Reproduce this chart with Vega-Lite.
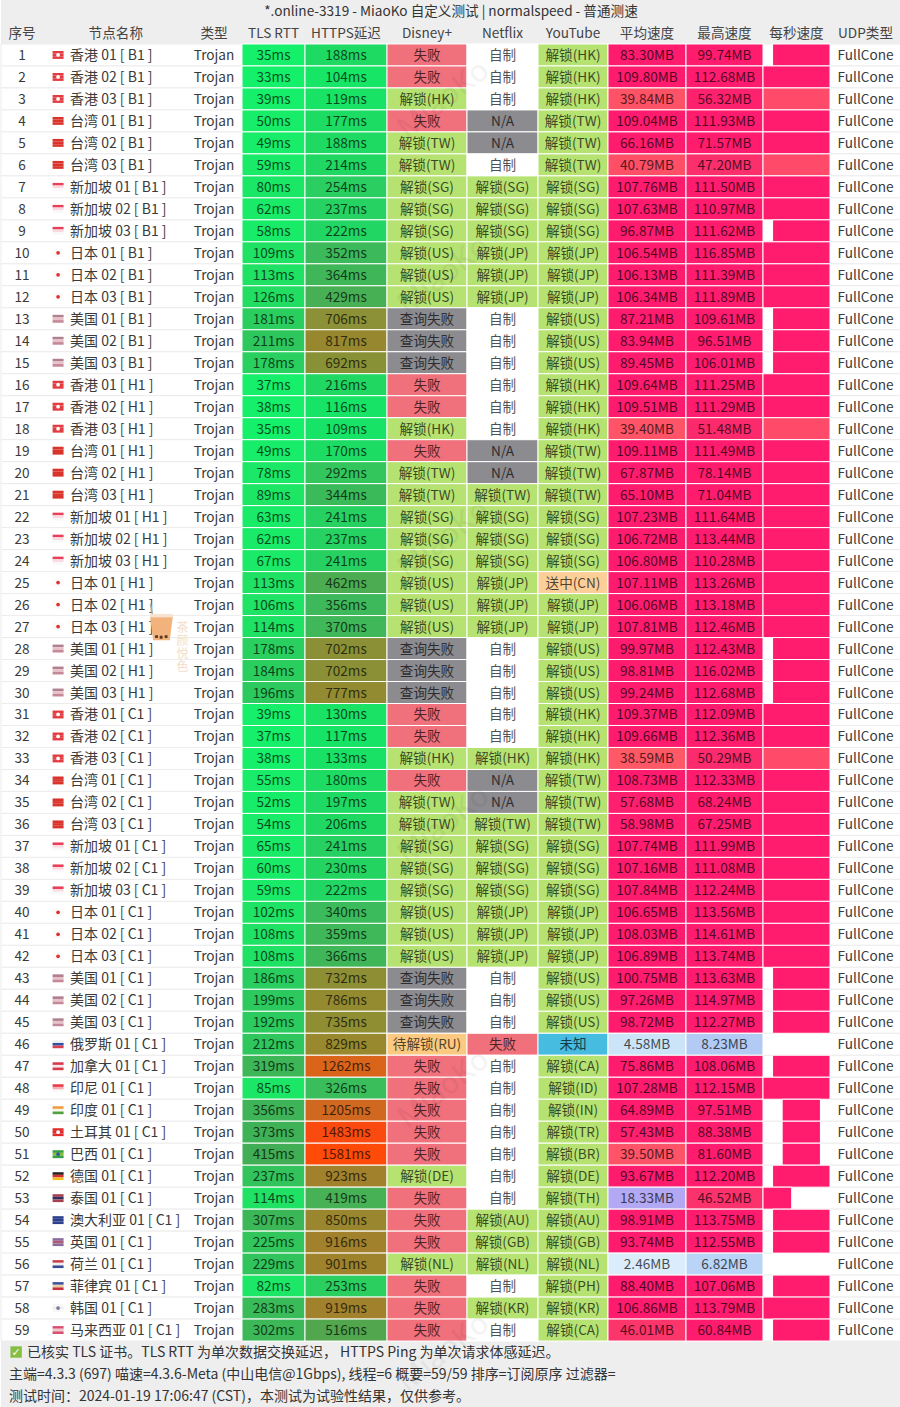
{
"$schema":"https://vega.github.io/schema/vega-lite/v6.json",
"width":900,"height":1407,"padding":0,
"autosize":{"type":"fit","contains":"padding"},
"background":"#ffffff",
"config":{"view":{"stroke":null},"text":{"font":"Noto Sans CJK SC","fontSize":13.6,"baseline":"middle","dy":1}},
"datasets":{"rows":[
{"n":1,"f":"HK","node":"香港 01 [ B1 ]","type":"Trojan","tls":35,"https":188,"disney":"失败","netflix":"自制","yt":"解锁(HK)","avg":83.30,"max":99.74,"s0":1,"s1":7,"tone":"solid","udp":"FullCone"},
{"n":2,"f":"HK","node":"香港 02 [ B1 ]","type":"Trojan","tls":33,"https":104,"disney":"失败","netflix":"自制","yt":"解锁(HK)","avg":109.80,"max":112.68,"s0":0,"s1":7,"tone":"solid","udp":"FullCone"},
{"n":3,"f":"HK","node":"香港 03 [ B1 ]","type":"Trojan","tls":39,"https":119,"disney":"解锁(HK)","netflix":"自制","yt":"解锁(HK)","avg":39.84,"max":56.32,"s0":0,"s1":7,"tone":"faded","udp":"FullCone"},
{"n":4,"f":"TW","node":"台湾 01 [ B1 ]","type":"Trojan","tls":50,"https":177,"disney":"失败","netflix":"N/A","yt":"解锁(TW)","avg":109.04,"max":111.93,"s0":0,"s1":7,"tone":"solid","udp":"FullCone"},
{"n":5,"f":"TW","node":"台湾 02 [ B1 ]","type":"Trojan","tls":49,"https":188,"disney":"解锁(TW)","netflix":"N/A","yt":"解锁(TW)","avg":66.16,"max":71.57,"s0":0,"s1":7,"tone":"solid","udp":"FullCone"},
{"n":6,"f":"TW","node":"台湾 03 [ B1 ]","type":"Trojan","tls":59,"https":214,"disney":"解锁(TW)","netflix":"自制","yt":"解锁(TW)","avg":40.79,"max":47.20,"s0":0,"s1":7,"tone":"faded","udp":"FullCone"},
{"n":7,"f":"SG","node":"新加坡 01 [ B1 ]","type":"Trojan","tls":80,"https":254,"disney":"解锁(SG)","netflix":"解锁(SG)","yt":"解锁(SG)","avg":107.76,"max":111.50,"s0":0,"s1":7,"tone":"solid","udp":"FullCone"},
{"n":8,"f":"SG","node":"新加坡 02 [ B1 ]","type":"Trojan","tls":62,"https":237,"disney":"解锁(SG)","netflix":"解锁(SG)","yt":"解锁(SG)","avg":107.63,"max":110.97,"s0":0,"s1":7,"tone":"solid","udp":"FullCone"},
{"n":9,"f":"SG","node":"新加坡 03 [ B1 ]","type":"Trojan","tls":58,"https":222,"disney":"解锁(SG)","netflix":"解锁(SG)","yt":"解锁(SG)","avg":96.87,"max":111.62,"s0":1,"s1":7,"tone":"solid","udp":"FullCone"},
{"n":10,"f":"JP","node":"日本 01 [ B1 ]","type":"Trojan","tls":109,"https":352,"disney":"解锁(US)","netflix":"解锁(JP)","yt":"解锁(JP)","avg":106.54,"max":116.85,"s0":0,"s1":7,"tone":"solid","udp":"FullCone"},
{"n":11,"f":"JP","node":"日本 02 [ B1 ]","type":"Trojan","tls":113,"https":364,"disney":"解锁(US)","netflix":"解锁(JP)","yt":"解锁(JP)","avg":106.13,"max":111.39,"s0":0,"s1":7,"tone":"solid","udp":"FullCone"},
{"n":12,"f":"JP","node":"日本 03 [ B1 ]","type":"Trojan","tls":126,"https":429,"disney":"解锁(US)","netflix":"解锁(JP)","yt":"解锁(JP)","avg":106.34,"max":111.89,"s0":0,"s1":7,"tone":"solid","udp":"FullCone"},
{"n":13,"f":"US","node":"美国 01 [ B1 ]","type":"Trojan","tls":181,"https":706,"disney":"查询失败","netflix":"自制","yt":"解锁(US)","avg":87.21,"max":109.61,"s0":1,"s1":7,"tone":"solid","udp":"FullCone"},
{"n":14,"f":"US","node":"美国 02 [ B1 ]","type":"Trojan","tls":211,"https":817,"disney":"查询失败","netflix":"自制","yt":"解锁(US)","avg":83.94,"max":96.51,"s0":1,"s1":7,"tone":"solid","udp":"FullCone"},
{"n":15,"f":"US","node":"美国 03 [ B1 ]","type":"Trojan","tls":178,"https":692,"disney":"查询失败","netflix":"自制","yt":"解锁(US)","avg":89.45,"max":106.01,"s0":1,"s1":7,"tone":"solid","udp":"FullCone"},
{"n":16,"f":"HK","node":"香港 01 [ H1 ]","type":"Trojan","tls":37,"https":216,"disney":"失败","netflix":"自制","yt":"解锁(HK)","avg":109.64,"max":111.25,"s0":0,"s1":7,"tone":"solid","udp":"FullCone"},
{"n":17,"f":"HK","node":"香港 02 [ H1 ]","type":"Trojan","tls":38,"https":116,"disney":"失败","netflix":"自制","yt":"解锁(HK)","avg":109.51,"max":111.29,"s0":0,"s1":7,"tone":"solid","udp":"FullCone"},
{"n":18,"f":"HK","node":"香港 03 [ H1 ]","type":"Trojan","tls":35,"https":109,"disney":"解锁(HK)","netflix":"自制","yt":"解锁(HK)","avg":39.40,"max":51.48,"s0":0,"s1":7,"tone":"faded","udp":"FullCone"},
{"n":19,"f":"TW","node":"台湾 01 [ H1 ]","type":"Trojan","tls":49,"https":170,"disney":"失败","netflix":"N/A","yt":"解锁(TW)","avg":109.11,"max":111.49,"s0":0,"s1":7,"tone":"solid","udp":"FullCone"},
{"n":20,"f":"TW","node":"台湾 02 [ H1 ]","type":"Trojan","tls":78,"https":292,"disney":"解锁(TW)","netflix":"N/A","yt":"解锁(TW)","avg":67.87,"max":78.14,"s0":0,"s1":7,"tone":"solid","udp":"FullCone"},
{"n":21,"f":"TW","node":"台湾 03 [ H1 ]","type":"Trojan","tls":89,"https":344,"disney":"解锁(TW)","netflix":"解锁(TW)","yt":"解锁(TW)","avg":65.10,"max":71.04,"s0":0,"s1":7,"tone":"solid","udp":"FullCone"},
{"n":22,"f":"SG","node":"新加坡 01 [ H1 ]","type":"Trojan","tls":63,"https":241,"disney":"解锁(SG)","netflix":"解锁(SG)","yt":"解锁(SG)","avg":107.23,"max":111.64,"s0":0,"s1":7,"tone":"solid","udp":"FullCone"},
{"n":23,"f":"SG","node":"新加坡 02 [ H1 ]","type":"Trojan","tls":62,"https":237,"disney":"解锁(SG)","netflix":"解锁(SG)","yt":"解锁(SG)","avg":106.72,"max":113.44,"s0":0,"s1":7,"tone":"solid","udp":"FullCone"},
{"n":24,"f":"SG","node":"新加坡 03 [ H1 ]","type":"Trojan","tls":67,"https":241,"disney":"解锁(SG)","netflix":"解锁(SG)","yt":"解锁(SG)","avg":106.80,"max":110.28,"s0":0,"s1":7,"tone":"solid","udp":"FullCone"},
{"n":25,"f":"JP","node":"日本 01 [ H1 ]","type":"Trojan","tls":113,"https":462,"disney":"解锁(US)","netflix":"解锁(JP)","yt":"送中(CN)","avg":107.11,"max":113.26,"s0":0,"s1":7,"tone":"solid","udp":"FullCone"},
{"n":26,"f":"JP","node":"日本 02 [ H1 ]","type":"Trojan","tls":106,"https":356,"disney":"解锁(US)","netflix":"解锁(JP)","yt":"解锁(JP)","avg":106.06,"max":113.18,"s0":0,"s1":7,"tone":"solid","udp":"FullCone"},
{"n":27,"f":"JP","node":"日本 03 [ H1 ]","type":"Trojan","tls":114,"https":370,"disney":"解锁(US)","netflix":"解锁(JP)","yt":"解锁(JP)","avg":107.81,"max":112.46,"s0":0,"s1":7,"tone":"solid","udp":"FullCone"},
{"n":28,"f":"US","node":"美国 01 [ H1 ]","type":"Trojan","tls":178,"https":702,"disney":"查询失败","netflix":"自制","yt":"解锁(US)","avg":99.97,"max":112.43,"s0":1,"s1":7,"tone":"solid","udp":"FullCone"},
{"n":29,"f":"US","node":"美国 02 [ H1 ]","type":"Trojan","tls":184,"https":702,"disney":"查询失败","netflix":"自制","yt":"解锁(US)","avg":98.81,"max":116.02,"s0":1,"s1":7,"tone":"solid","udp":"FullCone"},
{"n":30,"f":"US","node":"美国 03 [ H1 ]","type":"Trojan","tls":196,"https":777,"disney":"查询失败","netflix":"自制","yt":"解锁(US)","avg":99.24,"max":112.68,"s0":1,"s1":7,"tone":"solid","udp":"FullCone"},
{"n":31,"f":"HK","node":"香港 01 [ C1 ]","type":"Trojan","tls":39,"https":130,"disney":"失败","netflix":"自制","yt":"解锁(HK)","avg":109.37,"max":112.09,"s0":0,"s1":7,"tone":"solid","udp":"FullCone"},
{"n":32,"f":"HK","node":"香港 02 [ C1 ]","type":"Trojan","tls":37,"https":117,"disney":"失败","netflix":"自制","yt":"解锁(HK)","avg":109.66,"max":112.36,"s0":0,"s1":7,"tone":"solid","udp":"FullCone"},
{"n":33,"f":"HK","node":"香港 03 [ C1 ]","type":"Trojan","tls":38,"https":133,"disney":"解锁(HK)","netflix":"解锁(HK)","yt":"解锁(HK)","avg":38.59,"max":50.29,"s0":0,"s1":7,"tone":"faded","udp":"FullCone"},
{"n":34,"f":"TW","node":"台湾 01 [ C1 ]","type":"Trojan","tls":55,"https":180,"disney":"失败","netflix":"N/A","yt":"解锁(TW)","avg":108.73,"max":112.33,"s0":0,"s1":7,"tone":"solid","udp":"FullCone"},
{"n":35,"f":"TW","node":"台湾 02 [ C1 ]","type":"Trojan","tls":52,"https":197,"disney":"解锁(TW)","netflix":"N/A","yt":"解锁(TW)","avg":57.68,"max":68.24,"s0":0,"s1":7,"tone":"solid","udp":"FullCone"},
{"n":36,"f":"TW","node":"台湾 03 [ C1 ]","type":"Trojan","tls":54,"https":206,"disney":"解锁(TW)","netflix":"解锁(TW)","yt":"解锁(TW)","avg":58.98,"max":67.25,"s0":0,"s1":7,"tone":"solid","udp":"FullCone"},
{"n":37,"f":"SG","node":"新加坡 01 [ C1 ]","type":"Trojan","tls":65,"https":241,"disney":"解锁(SG)","netflix":"解锁(SG)","yt":"解锁(SG)","avg":107.74,"max":111.99,"s0":0,"s1":7,"tone":"solid","udp":"FullCone"},
{"n":38,"f":"SG","node":"新加坡 02 [ C1 ]","type":"Trojan","tls":60,"https":230,"disney":"解锁(SG)","netflix":"解锁(SG)","yt":"解锁(SG)","avg":107.16,"max":111.08,"s0":0,"s1":7,"tone":"solid","udp":"FullCone"},
{"n":39,"f":"SG","node":"新加坡 03 [ C1 ]","type":"Trojan","tls":59,"https":222,"disney":"解锁(SG)","netflix":"解锁(SG)","yt":"解锁(SG)","avg":107.84,"max":112.24,"s0":0,"s1":7,"tone":"solid","udp":"FullCone"},
{"n":40,"f":"JP","node":"日本 01 [ C1 ]","type":"Trojan","tls":102,"https":340,"disney":"解锁(US)","netflix":"解锁(JP)","yt":"解锁(JP)","avg":106.65,"max":113.56,"s0":0,"s1":7,"tone":"solid","udp":"FullCone"},
{"n":41,"f":"JP","node":"日本 02 [ C1 ]","type":"Trojan","tls":108,"https":359,"disney":"解锁(US)","netflix":"解锁(JP)","yt":"解锁(JP)","avg":108.03,"max":114.61,"s0":0,"s1":7,"tone":"solid","udp":"FullCone"},
{"n":42,"f":"JP","node":"日本 03 [ C1 ]","type":"Trojan","tls":108,"https":366,"disney":"解锁(US)","netflix":"解锁(JP)","yt":"解锁(JP)","avg":106.89,"max":113.74,"s0":0,"s1":7,"tone":"solid","udp":"FullCone"},
{"n":43,"f":"US","node":"美国 01 [ C1 ]","type":"Trojan","tls":186,"https":732,"disney":"查询失败","netflix":"自制","yt":"解锁(US)","avg":100.75,"max":113.63,"s0":1,"s1":7,"tone":"solid","udp":"FullCone"},
{"n":44,"f":"US","node":"美国 02 [ C1 ]","type":"Trojan","tls":199,"https":786,"disney":"查询失败","netflix":"自制","yt":"解锁(US)","avg":97.26,"max":114.97,"s0":1,"s1":7,"tone":"solid","udp":"FullCone"},
{"n":45,"f":"US","node":"美国 03 [ C1 ]","type":"Trojan","tls":192,"https":735,"disney":"查询失败","netflix":"自制","yt":"解锁(US)","avg":98.72,"max":112.27,"s0":1,"s1":7,"tone":"solid","udp":"FullCone"},
{"n":46,"f":"RU","node":"俄罗斯 01 [ C1 ]","type":"Trojan","tls":212,"https":829,"disney":"待解锁(RU)","netflix":"失败","yt":"未知","avg":4.58,"max":8.23,"s0":0,"s1":0,"tone":"solid","udp":"FullCone"},
{"n":47,"f":"CA","node":"加拿大 01 [ C1 ]","type":"Trojan","tls":319,"https":1262,"disney":"失败","netflix":"自制","yt":"解锁(CA)","avg":75.86,"max":108.06,"s0":1,"s1":7,"tone":"solid","udp":"FullCone"},
{"n":48,"f":"ID","node":"印尼 01 [ C1 ]","type":"Trojan","tls":85,"https":326,"disney":"失败","netflix":"自制","yt":"解锁(ID)","avg":107.28,"max":112.15,"s0":0,"s1":7,"tone":"solid","udp":"FullCone"},
{"n":49,"f":"IN","node":"印度 01 [ C1 ]","type":"Trojan","tls":356,"https":1205,"disney":"失败","netflix":"自制","yt":"解锁(IN)","avg":64.89,"max":97.51,"s0":2,"s1":6,"tone":"solid","udp":"FullCone"},
{"n":50,"f":"TR","node":"土耳其 01 [ C1 ]","type":"Trojan","tls":373,"https":1483,"disney":"失败","netflix":"自制","yt":"解锁(TR)","avg":57.43,"max":88.38,"s0":2,"s1":6,"tone":"solid","udp":"FullCone"},
{"n":51,"f":"BR","node":"巴西 01 [ C1 ]","type":"Trojan","tls":415,"https":1581,"disney":"失败","netflix":"自制","yt":"解锁(BR)","avg":39.50,"max":81.60,"s0":2,"s1":6,"tone":"solid","udp":"FullCone"},
{"n":52,"f":"DE","node":"德国 01 [ C1 ]","type":"Trojan","tls":237,"https":923,"disney":"解锁(DE)","netflix":"自制","yt":"解锁(DE)","avg":93.67,"max":112.20,"s0":1,"s1":7,"tone":"solid","udp":"FullCone"},
{"n":53,"f":"TH","node":"泰国 01 [ C1 ]","type":"Trojan","tls":114,"https":419,"disney":"失败","netflix":"自制","yt":"解锁(TH)","avg":18.33,"max":46.52,"s0":0,"s1":3,"tone":"solid","udp":"FullCone"},
{"n":54,"f":"AU","node":"澳大利亚 01 [ C1 ]","type":"Trojan","tls":307,"https":850,"disney":"失败","netflix":"解锁(AU)","yt":"解锁(AU)","avg":98.91,"max":113.75,"s0":1,"s1":7,"tone":"solid","udp":"FullCone"},
{"n":55,"f":"GB","node":"英国 01 [ C1 ]","type":"Trojan","tls":225,"https":916,"disney":"失败","netflix":"解锁(GB)","yt":"解锁(GB)","avg":93.74,"max":112.55,"s0":1,"s1":7,"tone":"solid","udp":"FullCone"},
{"n":56,"f":"NL","node":"荷兰 01 [ C1 ]","type":"Trojan","tls":229,"https":901,"disney":"解锁(NL)","netflix":"解锁(NL)","yt":"解锁(NL)","avg":2.46,"max":6.82,"s0":0,"s1":0,"tone":"solid","udp":"FullCone"},
{"n":57,"f":"PH","node":"菲律宾 01 [ C1 ]","type":"Trojan","tls":82,"https":253,"disney":"失败","netflix":"自制","yt":"解锁(PH)","avg":88.40,"max":107.06,"s0":1,"s1":7,"tone":"solid","udp":"FullCone"},
{"n":58,"f":"KR","node":"韩国 01 [ C1 ]","type":"Trojan","tls":283,"https":919,"disney":"失败","netflix":"解锁(KR)","yt":"解锁(KR)","avg":106.86,"max":113.79,"s0":0,"s1":7,"tone":"solid","udp":"FullCone"},
{"n":59,"f":"MY","node":"马来西亚 01 [ C1 ]","type":"Trojan","tls":302,"https":516,"disney":"失败","netflix":"自制","yt":"解锁(CA)","avg":46.01,"max":60.84,"s0":1,"s1":7,"tone":"solid","udp":"FullCone"}
]},
"data":{"name":"rows"},
"encoding":{"y":{"field":"n","type":"ordinal","axis":null,"scale":{"paddingInner":0,"paddingOuter":0,"domain":[-1,0,1,2,3,4,5,6,7,8,9,10,11,12,13,14,15,16,17,18,19,20,21,22,23,24,25,26,27,28,29,30,31,32,33,34,35,36,37,38,39,40,41,42,43,44,45,46,47,48,49,50,51,52,53,54,55,56,57,58,59,60,61,62]}}},
"resolve":{"scale":{"color":"independent"}},
"layer":[
{"mark":{"type":"rect","fill":"#ffffff","stroke":"#ececec","strokeWidth":1},"encoding":{"x":{"datum":-11,"type":"quantitative","axis":null,"scale":{"zero":false,"nice":false,"clamp":false,"domain":[-11,-10,-9,-8,-7,-6,-5,-4,-3,-2,-1,0,7,8],"range":[0,42,68,185,241,304,386,466,537,607,685,762,829,900]}},"x2":{"datum":8}}},
{"data":{"values":[{"n":-1},{"n":0},{"n":60},{"n":61},{"n":62}]},"mark":{"type":"rect","fill":"#eeeeef"},"encoding":{"x":{"datum":-11},"x2":{"datum":8}}},

{"mark":{"type":"rect","stroke":"#ffffff","strokeWidth":1},"encoding":{"x":{"datum":-7},"x2":{"datum":-6},"color":{"field":"tls","type":"quantitative","legend":null,"scale":{"domain":[33,120,200,300,415],"range":["#14f06a","#20e063","#2cc95e","#3cb858","#41ad55"]}}}},
{"mark":{"type":"rect","stroke":"#ffffff","strokeWidth":1},"encoding":{"x":{"datum":-6},"x2":{"datum":-5},"color":{"field":"https","type":"quantitative","legend":null,"scale":{"domain":[104,220,350,520,700,920,1205,1480,1581],"range":["#16e566","#20d662","#3cb95a","#52a64e","#8b9036","#a1812c","#d0681f","#fb4a10","#ff4a08"]}}}},
{"mark":{"type":"rect","stroke":"#ffffff","strokeWidth":1},"encoding":{"x":{"datum":-5},"x2":{"datum":-4},"color":{"condition":[{"test":"test(/^失败/,datum.disney)","value":"#f0707c"},{"test":"test(/^查询/,datum.disney)","value":"#8b8b90"},{"test":"test(/^待/,datum.disney)","value":"#fbc97f"}],"value":"#b6e272"}}},
{"mark":{"type":"rect","stroke":"#ffffff","strokeWidth":1},"encoding":{"x":{"datum":-4},"x2":{"datum":-3},"color":{"condition":[{"test":"test(/^失败/,datum.netflix)","value":"#f0707c"},{"test":"datum.netflix=='N/A'","value":"#8b8b90"},{"test":"datum.netflix=='自制'","value":"#ffffff"}],"value":"#b6e272"}}},
{"mark":{"type":"rect","stroke":"#ffffff","strokeWidth":1},"encoding":{"x":{"datum":-3},"x2":{"datum":-2},"color":{"condition":[{"test":"test(/^送中/,datum.yt)","value":"#fdcf98"},{"test":"datum.yt=='未知'","value":"#45bce0"}],"value":"#b6e272"}}},
{"mark":{"type":"rect","stroke":"#ffffff","strokeWidth":1},"encoding":{"x":{"datum":-2},"x2":{"datum":-1},"color":{"field":"avg","type":"quantitative","legend":null,"scale":{"domain":[2,5,8,18.3,38,47,60,120],"range":["#deeefb","#c8e2f8","#b2cbf4","#b3a8f3","#ff5a66","#fb2f6c","#ff1c6f","#ff1c6f"]}}}},
{"mark":{"type":"rect","stroke":"#ffffff","strokeWidth":1},"encoding":{"x":{"datum":-1},"x2":{"datum":0},"color":{"field":"max","type":"quantitative","legend":null,"scale":{"domain":[2,5,8,18.3,38,47,60,120],"range":["#deeefb","#c8e2f8","#b2cbf4","#b3a8f3","#ff5a66","#fb2f6c","#ff1c6f","#ff1c6f"]}}}},
{"transform":[{"filter":"datum.s1>0"}],"mark":{"type":"rect","stroke":"#ffffff","strokeWidth":1},"encoding":{"x":{"field":"s0","type":"quantitative"},"x2":{"field":"s1"},"color":{"field":"tone","type":"nominal","legend":null,"scale":{"domain":["solid","faded"],"range":["#ff1c6f","#ff4a6a"]}}}},

{"data":{"values":[{"n":3},{"n":11},{"n":23},{"n":36},{"n":48},{"n":60}]},"mark":{"type":"text","text":"MiaoKo","color":"#000000","opacity":0.045,"fontSize":30,"angle":-38,"font":"Noto Sans"},"encoding":{"x":{"datum":-4.3}}},

{"mark":{"type":"point","filled":true,"opacity":1,"size":121,"shape":"M-1,-0.72H1V-0.24H-1Z"},"encoding":{"x":{"datum":-9.42},"color":{"field":"f","type":"nominal","legend":null,"scale":{"domain":["HK","TW","SG","JP","US","RU","CA","ID","IN","TR","BR","DE","TH","AU","GB","NL","PH","KR","MY"],"range":["#e23c40","#d8342c","#e6405a","#fafafa","#b08090","#f0f0f0","#d8384a","#e63a46","#f09a40","#dd2c2c","#35a040","#222222","#a54050","#2c3f8c","#8a6a9a","#c83a48","#3a4ea0","#f7f7f7","#d85070"]}}}},
{"mark":{"type":"point","filled":true,"opacity":1,"size":121,"shape":"M-1,-0.24H1V0.24H-1Z"},"encoding":{"x":{"datum":-9.42},"color":{"field":"f","type":"nominal","legend":null,"scale":{"domain":["HK","TW","SG","JP","US","RU","CA","ID","IN","TR","BR","DE","TH","AU","GB","NL","PH","KR","MY"],"range":["#e23c40","#d8342c","#f9d9e0","#fafafa","#e8c0c8","#3050a8","#f0e8ea","#f5b0b5","#f5f5e8","#dd2c2c","#8cbf30","#d83030","#303060","#2c3f8c","#b05a78","#eeeeee","#e8d0a0","#eeeeee","#f0c8d0"]}}}},
{"mark":{"type":"point","filled":true,"opacity":1,"size":121,"shape":"M-1,0.24H1V0.72H-1Z"},"encoding":{"x":{"datum":-9.42},"color":{"field":"f","type":"nominal","legend":null,"scale":{"domain":["HK","TW","SG","JP","US","RU","CA","ID","IN","TR","BR","DE","TH","AU","GB","NL","PH","KR","MY"],"range":["#e23c40","#d8342c","#f8f8f8","#fafafa","#c48898","#d84050","#d8384a","#f8f8f8","#50a040","#dd2c2c","#35a040","#f0c020","#a54050","#2c3f8c","#8a6a9a","#3a4a9a","#c83040","#f7f7f7","#d85070"]}}}},
{"transform":[{"filter":{"field":"f","oneOf":["HK","JP","TR","BR","KR"]}}],"mark":{"type":"point","filled":true,"opacity":1,"size":14,"shape":"circle"},"encoding":{"x":{"datum":-9.42},"color":{"field":"f","type":"nominal","legend":null,"scale":{"domain":["HK","JP","TR","BR","KR"],"range":["#ffffff","#e03030","#ffffff","#2a5aa0","#7a7a9a"]}}}},

{"mark":{"type":"text","color":"#3a3a3a"},"encoding":{"x":{"datum":-10.5},"text":{"field":"n","type":"nominal"}}},
{"mark":{"type":"text","color":"#3a3a3a","align":"left","dx":1,"fontSize":14},"encoding":{"x":{"datum":-9},"text":{"field":"node"}}},
{"mark":{"type":"text","color":"#3a3a3a"},"encoding":{"x":{"datum":-7.5},"text":{"field":"type"}}},
{"mark":{"type":"text","color":"#000000","opacity":0.68,"text":{"expr":"datum.tls+'ms'"}},"encoding":{"x":{"datum":-6.5}}},
{"mark":{"type":"text","color":"#000000","opacity":0.68,"text":{"expr":"datum.https+'ms'"}},"encoding":{"x":{"datum":-5.5}}},
{"mark":{"type":"text","color":"#000000","opacity":0.68},"encoding":{"x":{"datum":-4.5},"text":{"field":"disney"}}},
{"mark":{"type":"text","color":"#000000","opacity":0.68},"encoding":{"x":{"datum":-3.5},"text":{"field":"netflix"}}},
{"mark":{"type":"text","color":"#000000","opacity":0.68},"encoding":{"x":{"datum":-2.5},"text":{"field":"yt"}}},
{"mark":{"type":"text","color":"#000000","opacity":0.68,"text":{"expr":"format(datum.avg,'.2f')+'MB'"}},"encoding":{"x":{"datum":-1.5}}},
{"mark":{"type":"text","color":"#000000","opacity":0.68,"text":{"expr":"format(datum.max,'.2f')+'MB'"}},"encoding":{"x":{"datum":-0.5}}},
{"mark":{"type":"text","color":"#3a3a3a"},"encoding":{"x":{"datum":7.5},"text":{"field":"udp"}}},

{"data":{"values":[{"n":-1,"label":"*.online-3319 - MiaoKo 自定义测试 | normalspeed - 普通测速"}]},"mark":{"type":"text","color":"#333333"},"encoding":{"x":{"datum":-4.2},"text":{"field":"label"}}},
{"data":{"values":[{"n":0,"label":"序号"}]},"mark":{"type":"text","color":"#444444"},"encoding":{"x":{"datum":-10.5},"text":{"field":"label"}}},
{"data":{"values":[{"n":0,"label":"节点名称"}]},"mark":{"type":"text","color":"#444444"},"encoding":{"x":{"datum":-8.6},"text":{"field":"label"}}},
{"data":{"values":[{"n":0,"label":"类型"}]},"mark":{"type":"text","color":"#444444"},"encoding":{"x":{"datum":-7.5},"text":{"field":"label"}}},
{"data":{"values":[{"n":0,"label":"TLS RTT"}]},"mark":{"type":"text","color":"#444444"},"encoding":{"x":{"datum":-6.5},"text":{"field":"label"}}},
{"data":{"values":[{"n":0,"label":"HTTPS延迟"}]},"mark":{"type":"text","color":"#444444"},"encoding":{"x":{"datum":-5.5},"text":{"field":"label"}}},
{"data":{"values":[{"n":0,"label":"Disney+"}]},"mark":{"type":"text","color":"#444444"},"encoding":{"x":{"datum":-4.5},"text":{"field":"label"}}},
{"data":{"values":[{"n":0,"label":"Netflix"}]},"mark":{"type":"text","color":"#444444"},"encoding":{"x":{"datum":-3.5},"text":{"field":"label"}}},
{"data":{"values":[{"n":0,"label":"YouTube"}]},"mark":{"type":"text","color":"#444444"},"encoding":{"x":{"datum":-2.5},"text":{"field":"label"}}},
{"data":{"values":[{"n":0,"label":"平均速度"}]},"mark":{"type":"text","color":"#444444"},"encoding":{"x":{"datum":-1.5},"text":{"field":"label"}}},
{"data":{"values":[{"n":0,"label":"最高速度"}]},"mark":{"type":"text","color":"#444444"},"encoding":{"x":{"datum":-0.5},"text":{"field":"label"}}},
{"data":{"values":[{"n":0,"label":"每秒速度"}]},"mark":{"type":"text","color":"#444444"},"encoding":{"x":{"datum":3.5},"text":{"field":"label"}}},
{"data":{"values":[{"n":0,"label":"UDP类型"}]},"mark":{"type":"text","color":"#444444"},"encoding":{"x":{"datum":7.5},"text":{"field":"label"}}},

{"data":{"values":[{"n":60}]},"mark":{"type":"point","filled":true,"opacity":1,"shape":"square","size":130,"color":"#86bd45"},"encoding":{"x":{"datum":-10.64}}},
{"data":{"values":[{"n":60,"label":"✓"}]},"mark":{"type":"text","color":"#ffffff","fontSize":11,"font":"DejaVu Sans"},"encoding":{"x":{"datum":-10.64},"text":{"field":"label"}}},
{"data":{"values":[{"n":60,"label":"已核实 TLS 证书。TLS RTT 为单次数据交换延迟， HTTPS Ping 为单次请求体感延迟。"}]},"mark":{"type":"text","color":"#333333","align":"left","dx":26,"fontSize":14},"encoding":{"x":{"datum":-11},"text":{"field":"label"}}},
{"data":{"values":[{"n":61,"label":"主端=4.3.3 (697) 喵速=4.3.6-Meta (中山电信@1Gbps), 线程=6 概要=59/59 排序=订阅原序 过滤器="},{"n":62,"label":"测试时间：2024-01-19 17:06:47 (CST)，本测试为试验性结果，仅供参考。"}]},"mark":{"type":"text","color":"#333333","align":"left","dx":8,"fontSize":14},"encoding":{"x":{"datum":-11},"text":{"field":"label"}}},

{"data":{"values":[{"n":27}]},"mark":{"type":"point","filled":false,"opacity":1,"size":529,"shape":"M-0.72,-0.65L-0.95,-2.0","color":"#a8a8a8","strokeWidth":1.5},"encoding":{"x":{"datum":-8.21}}},
{"data":{"values":[{"n":27}]},"mark":{"type":"point","filled":true,"opacity":1,"size":529,"shape":"M-1,-0.95H1L0.72,1.2H-0.72Z","color":"#f1b27c"},"encoding":{"x":{"datum":-8.21}}},
{"data":{"values":[{"n":27}]},"mark":{"type":"point","filled":true,"opacity":1,"size":529,"shape":"M-1,-1.1H1V-0.8H-1Z","color":"#f7e3d2"},"encoding":{"x":{"datum":-8.21}}},
{"data":{"values":[{"n":27}]},"mark":{"type":"point","filled":true,"opacity":1,"size":529,"shape":"M-0.55,0.75H-0.3V1H-0.55ZM-0.15,0.8H0.1V1.05H-0.15ZM0.28,0.75H0.53V1H0.28Z","color":"#5e3820"},"encoding":{"x":{"datum":-8.21}}},
{"data":{"values":[{"n":27}]},"mark":{"type":"text","color":"#f3ddc9","fontSize":12,"lineHeight":13,"text":["茶","颜","悦","色"]},"encoding":{"x":{"datum":-8.03}}}
]
}
